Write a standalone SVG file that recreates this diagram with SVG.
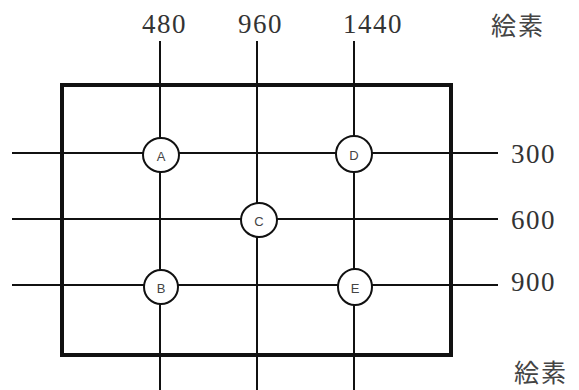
<svg xmlns="http://www.w3.org/2000/svg" width="579" height="390" viewBox="0 0 579 390">
<style>
.frame{fill:none;stroke:#111;stroke-width:4}
.grid{stroke:#111;stroke-width:2;fill:none}
.node ellipse{fill:#fff;stroke:#111;stroke-width:2}
.node text{font-family:"Liberation Sans",Arial,sans-serif;font-size:13px;fill:#444;text-anchor:middle}
.num{font-family:"Liberation Serif","Times New Roman",serif;font-size:27px;fill:#333;letter-spacing:1.5px}
.unit{font-family:"Noto Sans CJK JP","Noto Sans CJK SC",sans-serif;font-size:25px;fill:#444;letter-spacing:2px}
</style>
<rect width="579" height="390" fill="#fff"/>
<rect id="frame" class="frame" x="62" y="85" width="389" height="270"/>
<g id="connectors" class="grid">
<line x1="160" y1="41" x2="160" y2="390"/>
<line x1="257" y1="41" x2="257" y2="390"/>
<line x1="354" y1="41" x2="354" y2="390"/>
<line x1="12" y1="153" x2="498" y2="153"/>
<line x1="12" y1="219" x2="498" y2="219"/>
<line x1="12" y1="285" x2="498" y2="285"/>
</g>
<g id="node-A" class="node"><ellipse cx="161" cy="155" rx="18" ry="17"/><text x="161" y="161">A</text></g>
<g id="node-D" class="node"><ellipse cx="354" cy="154" rx="18" ry="18"/><text x="354" y="160">D</text></g>
<g id="node-C" class="node"><ellipse cx="259" cy="220" rx="18" ry="17"/><text x="259" y="226">C</text></g>
<g id="node-B" class="node"><ellipse cx="161" cy="287" rx="17" ry="17"/><text x="161" y="293">B</text></g>
<g id="node-E" class="node"><ellipse cx="355" cy="287" rx="17" ry="18"/><text x="355" y="293">E</text></g>
<g id="labels">
<text class="num" x="142" y="33">480</text>
<text class="num" x="238" y="33">960</text>
<text class="num" x="343" y="33">1440</text>
<text class="num" x="511" y="163">300</text>
<text class="num" x="511" y="229">600</text>
<text class="num" x="511" y="291">900</text>
<text class="unit" x="491" y="35">絵素</text>
<text class="unit" x="514" y="382">絵素</text>
</g>
</svg>
